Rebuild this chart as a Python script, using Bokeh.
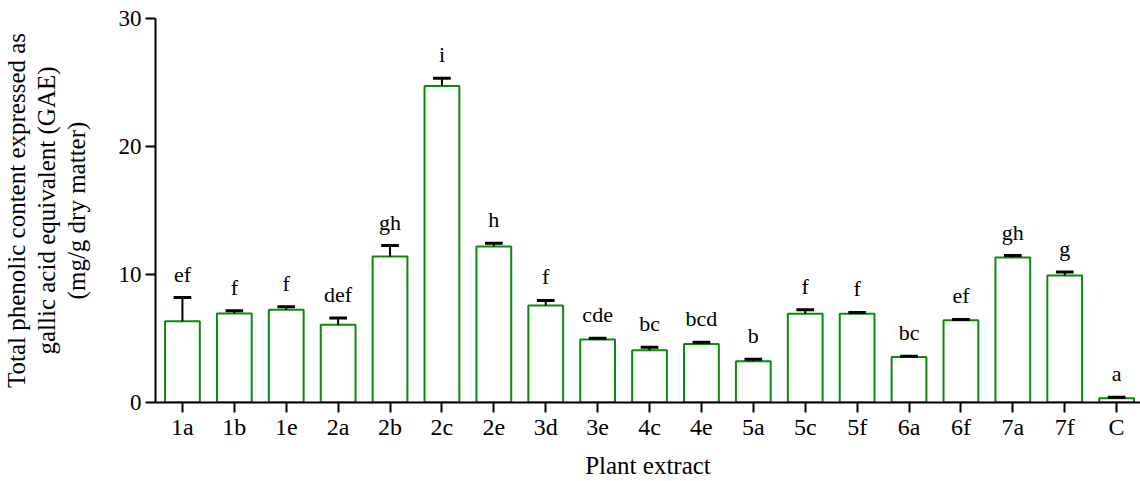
from bokeh.plotting import figure
from bokeh.models import FixedTicker, ColumnDataSource, Range1d
from bokeh.core.properties import value
from bokeh.embed import file_html
from bokeh.resources import INLINE

categories = ["1a", "1b", "1e", "2a", "2b", "2c", "2e", "3d", "3e", "4c",
              "4e", "5a", "5c", "5f", "6a", "6f", "7a", "7f", "C"]
means = [6.34, 6.96, 7.25, 6.08, 11.40, 24.73, 12.18, 7.58, 4.93, 4.08,
         4.57, 3.22, 6.94, 6.94, 3.56, 6.42, 11.33, 9.92, 0.34]
errors = [1.86, 0.21, 0.23, 0.52, 0.86, 0.60, 0.27, 0.39, 0.08, 0.23,
          0.13, 0.16, 0.31, 0.10, 0.05, 0.07, 0.15, 0.27, 0.07]
letters = ["ef", "f", "f", "def", "gh", "i", "h", "f", "cde", "bc",
           "bcd", "b", "f", "f", "bc", "ef", "gh", "g", "a"]
y_ticks = [0, 10, 20, 30]

FONT = "Liberation Serif"

xs = list(range(len(categories)))
tops = [m + e for m, e in zip(means, errors)]
src = ColumnDataSource(dict(x=xs, mean=means, top=tops, letter=letters,
                            cl=[x - 0.17 for x in xs], cr=[x + 0.17 for x in xs]))

p = figure(width=1140, height=481, output_backend="svg", toolbar_location=None,
           x_range=Range1d(-0.519, 18.46), y_range=Range1d(0, 30),
           min_border_left=153, min_border_right=0, min_border_top=18,
           min_border_bottom=78)
p.outline_line_color = None
p.xgrid.visible = False
p.ygrid.visible = False
p.background_fill_color = "white"
p.border_fill_color = "white"

p.vbar(x="x", top="mean", bottom=0, width=0.67, source=src,
       fill_color="white", line_color="#0a8a0a", line_width=2)
p.segment(x0="x", y0="mean", x1="x", y1="top", source=src,
          line_color="black", line_width=2)
p.segment(x0="cl", y0="top", x1="cr", y1="top", source=src,
          line_color="black", line_width=3)
p.text(x="x", y="top", text="letter", source=src, text_align="center",
       text_baseline="bottom", y_offset=-11, text_font=value(FONT),
       text_font_size="22px", text_color="black")

p.xaxis.ticker = FixedTicker(ticks=xs)
p.xaxis.major_label_overrides = {i: c for i, c in enumerate(categories)}
p.yaxis.ticker = FixedTicker(ticks=y_ticks)

for ax in (p.xaxis, p.yaxis):
    ax.axis_line_width = 2
    ax.axis_line_color = "black"
    ax.major_tick_line_width = 2
    ax.major_tick_line_color = "black"
    ax.major_tick_in = 0
    ax.major_tick_out = 10
    ax.minor_tick_line_color = None
    ax.major_label_text_font = FONT
    ax.major_label_text_color = "black"
    ax.axis_label_text_font = FONT
    ax.axis_label_text_font_size = "25px"
    ax.axis_label_text_font_style = "normal"
    ax.axis_label_text_color = "black"

p.xaxis.major_label_text_font_size = "24px"
p.yaxis.major_label_text_font_size = "23px"
p.xaxis.major_label_standoff = 1
p.yaxis.major_label_standoff = 4
p.xaxis.axis_label = "Plant extract"
p.xaxis.axis_label_standoff = 9
p.xaxis.axis_label_text_line_height = 1.0
p.yaxis.axis_label = "Total phenolic content expressed as\ngallic acid equivalent (GAE)\n(mg/g dry matter)"
p.yaxis.axis_label_standoff = 26
p.yaxis.axis_label_text_line_height = 1.1

open("out.html", "w").write(file_html(p, INLINE))
